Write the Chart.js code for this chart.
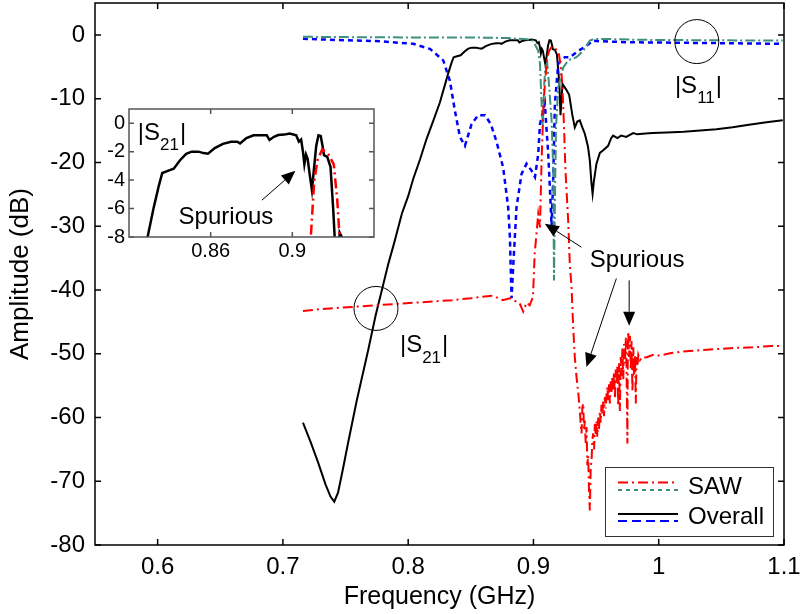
<!DOCTYPE html>
<html>
<head>
<meta charset="utf-8">
<script src="https://cdn.jsdelivr.net/npm/chart.js@4.4.1/dist/chart.umd.min.js"></script>
<style>
  html, body { margin: 0; padding: 0; background: #fff; }
  #wrap { position: relative; width: 800px; height: 614px; }
  #main { position: absolute; left: 0; top: 0; }
  #inset { position: absolute; left: 85px; top: 100px; }
</style>
</head>
<body>
<div id="wrap">
  <canvas id="main" width="800" height="614"></canvas>
  <canvas id="inset" width="300" height="165"></canvas>
</div>
<script>
// ---- measured responses (frequency in GHz, amplitude in dB) ----
const overallS21Freq = [0.716,0.722,0.728,0.734,0.738,0.741,0.744,0.748,0.752,0.759,0.768,0.774,0.779,0.784,0.789,0.795,0.800,0.804,0.8095,0.8147,0.820,0.8253,0.8291,0.8320,0.8346,0.8363,0.8390,0.8419,0.8450,0.8480,0.8507,0.8540,0.8565,0.8587,0.8620,0.8660,0.8700,0.8730,0.8744,0.8775,0.8810,0.8845,0.8875,0.8888,0.8910,0.8931,0.8960,0.8987,0.9019,0.9032,0.9043,0.9052,0.9059,0.9067,0.9075,0.9085,0.9096,0.9107,0.9117,0.9128,0.9139,0.9148,0.9155,0.9171,0.9187,0.9200,0.9207,0.9216,0.9232,0.9259,0.9285,0.9310,0.9330,0.9350,0.9370,0.9390,0.9410,0.9435,0.9450,0.9462,0.9472,0.9482,0.9503,0.9530,0.9557,0.9596,0.9620,0.9636,0.9670,0.9700,0.9740,0.9796,0.9830,0.9870,0.9950,1.0063,1.020,1.033,1.046,1.059,1.072,1.086,1.099];
const overallS21Db   = [-60.8,-63.8,-67.0,-70.5,-72.4,-73.2,-71.8,-68.0,-64.0,-57.3,-49.5,-44.0,-40.0,-36.0,-32.5,-28.0,-25.3,-22.6,-19.5,-16.3,-13.5,-10.6,-8.0,-6.0,-4.4,-3.5,-3.35,-3.2,-2.6,-2.15,-2.0,-2.0,-2.1,-2.15,-1.75,-1.45,-1.3,-1.3,-1.42,-1.05,-0.85,-0.85,-0.85,-1.18,-0.95,-0.83,-0.8,-0.72,-0.85,-1.3,-1.15,-2.0,-2.9,-2.2,-2.5,-3.6,-4.7,-3.06,-1.6,-0.85,-0.9,-1.6,-2.24,-2.36,-3.06,-6.0,-7.9,-12.6,-7.7,-8.5,-9.4,-12.5,-14.5,-13.6,-13.4,-14.5,-15.5,-17.5,-19.7,-23.0,-24.9,-23.0,-20.2,-18.5,-18.1,-17.4,-16.2,-15.8,-16.2,-15.8,-16.0,-15.4,-15.6,-15.5,-15.4,-15.3,-15.2,-15.0,-14.8,-14.5,-14.1,-13.7,-13.4];

const overallS11Freq = [0.716,0.750,0.7775,0.804,0.8174,0.828,0.8333,0.8373,0.8413,0.8453,0.8506,0.8559,0.8613,0.8660,0.8706,0.8758,0.8798,0.8812,0.8825,0.8838,0.8865,0.8905,0.8945,0.8985,0.9012,0.9038,0.9052,0.9078,0.9091,0.9118,0.9131,0.9145,0.9158,0.9171,0.9198,0.9224,0.925,0.929,0.9344,0.9424,0.9477,0.953,0.977,1.001,1.05,1.099];
const overallS11Db   = [-0.6,-0.85,-1.0,-1.4,-2.2,-4.0,-7.2,-11.9,-16.0,-17.4,-14.0,-12.6,-12.6,-14.0,-16.8,-20.8,-27.0,-31.7,-41.3,-36.4,-27.0,-21.8,-20.2,-21.3,-22.3,-18.7,-14.0,-11.9,-10.8,-18.7,-23.9,-30.0,-22.3,-10.8,-4.5,-4.0,-3.5,-3.5,-2.7,-1.7,-0.9,-1.0,-1.16,-1.2,-1.3,-1.4];

const sawS21Freq = [0.716,0.730,0.745,0.760,0.775,0.790,0.805,0.820,0.835,0.850,0.857,0.8676,0.8756,0.881,0.889,0.8918,0.8945,0.897,0.8996,0.901,0.9038,0.9052,0.9065,0.9080,0.9091,0.9107,0.9123,0.9147,0.9179,0.9203,0.9220,0.9231,0.9245,0.9255,0.9277,0.9290,0.9304,0.9317,0.9330,0.9344,0.9357,
  0.9370,0.9377,0.9384,0.9390,0.9397,0.9404,0.9410,0.9417,0.9424,0.9430,0.9437,0.9443,0.9450,0.9457,0.9464,0.9470,0.9477,0.9484,0.9490,0.9497,0.9503,0.9510,0.9517,0.9523,0.9530,0.9537,0.9543,0.9550,0.9557,0.9563,0.9570,0.9577,0.9583,0.9590,0.9597,0.9603,0.9610,0.9617,0.9623,0.9630,0.9636,0.9643,0.9650,0.9657,0.9663,0.9670,0.9676,0.9683,0.9690,0.9697,0.9703,0.9710,0.9717,0.9723,0.9730,0.9737,0.9743,0.9750,0.9753,0.9757,0.9763,0.9770,0.9777,0.9783,0.9790,0.9797,0.9803,0.9810,0.9817,0.9823,0.9830,0.9837,
  0.9850,0.9870,0.9900,0.9950,1.001,1.010,1.017,1.030,1.045,1.060,1.075,1.090,1.099];
const sawS21Db   = [-43.3,-43.0,-42.8,-42.6,-42.4,-42.2,-42.0,-41.8,-41.6,-41.3,-41.1,-40.9,-41.6,-41.3,-42.1,-43.4,-42.0,-42.4,-41.1,-34.3,-28.1,-30.2,-19.7,-11.0,-7.9,-4.1,-2.6,-1.83,-2.24,-2.9,-5.4,-7.9,-15.0,-21.0,-29.1,-35.9,-39.5,-45.8,-50.5,-53.7,-56.0,
  -58.9,-61.0,-62.5,-58.5,-57.8,-62.0,-60.5,-64.0,-61.5,-67.5,-66.0,-71.0,-74.6,-68.0,-66.7,-63.5,-62.5,-65.0,-61.0,-62.8,-60.5,-63.0,-60.0,-61.8,-59.0,-60.8,-58.0,-59.5,-57.5,-59.8,-56.8,-58.6,-56.5,-55.2,-57.5,-54.8,-57.8,-54.2,-56.0,-53.5,-55.8,-52.8,-57.0,-52.5,-54.5,-51.8,-58.2,-51.5,-59.0,-50.5,-53.5,-49.2,-54.0,-48.5,-51.5,-47.5,-52.0,-64.1,-49.0,-46.5,-50.5,-47.2,-52.5,-48.0,-56.0,-49.0,-53.5,-50.2,-57.8,-50.5,-52.0,-50.2,
  -51.0,-50.5,-50.6,-50.2,-50.3,-49.9,-49.7,-49.5,-49.3,-49.1,-49.0,-48.8,-48.8];

const sawS11Freq = [0.716,0.750,0.800,0.850,0.880,0.895,0.8996,0.9038,0.9052,0.9065,0.9075,0.9085,0.9095,0.911,0.9125,0.9145,0.9158,0.9164,0.9172,0.918,0.9198,0.9238,0.9277,0.9344,0.9397,0.945,0.949,0.960,0.980,1.000,1.050,1.099];
const sawS11Db   = [-0.3,-0.35,-0.4,-0.4,-0.5,-0.7,-0.9,-2.5,-4.5,-10.8,-14.5,-8.0,-5.0,-4.5,-8.0,-13.4,-21.3,-38.5,-25.0,-14.5,-8.2,-5.1,-4.0,-3.5,-2.5,-0.9,-0.63,-0.65,-0.75,-0.8,-0.85,-0.9];

// ---- axis ticks ----
const xTickValues = [0.6, 0.7, 0.8, 0.9, 1.0, 1.1];
const yTickValues = [-80, -70, -60, -50, -40, -30, -20, -10, 0];
const insetXTicks = [0.86, 0.9];
const insetYTicks = [-8, -6, -4, -2, 0];

const legendLabels = ['SAW', 'Overall'];

// ---- styling ----
const FONT = 'Liberation Sans, Arial, Helvetica, sans-serif';
const RED = '#ff0000', TEAL = '#3f8f7f', BLACK = '#000000', BLUE = '#0000ff';
const DASH_RED = [10, 4, 2, 4], DASH_TEAL = [10, 3, 2, 3], DASH_BLUE = [5, 4];

const pts = (f, d) => f.map((x, i) => ({ x, y: d[i] }));
const fmt = v => String(+Number(v).toFixed(2));

function drawArrow(ctx, x1, y1, x2, y2) {
  const ang = Math.atan2(y2 - y1, x2 - x1), len = 14, hw = 6;
  const bx = x2 - len * Math.cos(ang), by = y2 - len * Math.sin(ang);
  ctx.save();
  ctx.strokeStyle = '#000'; ctx.fillStyle = '#000'; ctx.lineWidth = 1; ctx.setLineDash([]);
  ctx.beginPath(); ctx.moveTo(x1, y1); ctx.lineTo(bx, by); ctx.stroke();
  ctx.beginPath();
  ctx.moveTo(x2, y2);
  ctx.lineTo(bx + hw * Math.sin(ang), by - hw * Math.cos(ang));
  ctx.lineTo(bx - hw * Math.sin(ang), by + hw * Math.cos(ang));
  ctx.closePath(); ctx.fill();
  ctx.restore();
}

// "|S" + subscript + "|"
function drawSubLabel(ctx, x, y, sub, size) {
  ctx.save();
  ctx.fillStyle = '#000'; ctx.textBaseline = 'alphabetic'; ctx.textAlign = 'left';
  ctx.font = size + 'px ' + FONT;
  ctx.fillText('|S', x, y);
  let w = ctx.measureText('|S').width;
  const subSize = Math.round(size * 0.72);
  ctx.font = subSize + 'px ' + FONT;
  ctx.fillText(sub, x + w, y + size * 0.42);
  w += ctx.measureText(sub).width;
  ctx.font = size + 'px ' + FONT;
  ctx.fillText('|', x + w + 1, y);
  ctx.restore();
}

// Box frame with inward tick marks on all four sides
const framePlugin = {
  id: 'frame',
  afterDatasetsDraw(chart, args, opts) {
    const { ctx, chartArea: a, scales: { x, y } } = chart;
    ctx.save();
    ctx.setLineDash([]);
    ctx.strokeStyle = opts.color; ctx.lineWidth = opts.width;
    ctx.beginPath();
    x.ticks.forEach(t => {
      const px = x.getPixelForValue(t.value);
      ctx.moveTo(px, a.bottom); ctx.lineTo(px, a.bottom - opts.tick);
      ctx.moveTo(px, a.top); ctx.lineTo(px, a.top + opts.tick);
    });
    y.ticks.forEach(t => {
      const py = y.getPixelForValue(t.value);
      ctx.moveTo(a.left, py); ctx.lineTo(a.left + opts.tick, py);
      ctx.moveTo(a.right, py); ctx.lineTo(a.right - opts.tick, py);
    });
    ctx.stroke();
    ctx.strokeRect(a.left, a.top, a.right - a.left, a.bottom - a.top);
    ctx.restore();
  }
};

const whiteArea = {
  id: 'whiteArea',
  beforeDraw(chart) {
    const { ctx, chartArea: a } = chart;
    ctx.save(); ctx.fillStyle = '#fff';
    ctx.fillRect(a.left, a.top, a.right - a.left, a.bottom - a.top);
    ctx.restore();
  }
};

// Call-outs on the main plot (anchored in data units)
const mainNotes = {
  circles: [{ f: 0.7743, db: -42.9 }, { f: 1.0304, db: -1.05 }],
  labels: [{ f: 0.7934, db: -49.8, sub: '21' }, { f: 1.0129, db: -9.05, sub: '11' }],
  text: { f: 0.945, db: -36.4, s: 'Spurious' },
  arrows: [[0.9383, -33.3, 0.9091, -29.6], [0.9662, -38.2, 0.9423, -52.1], [0.9764, -38.5, 0.9764, -45.6]]
};

const mainNotesPlugin = {
  id: 'mainNotes',
  afterDatasetsDraw(chart) {
    const { ctx, scales: { x, y }, chartArea: a } = chart;
    const X = v => x.getPixelForValue(v), Y = v => y.getPixelForValue(v);
    ctx.save();
    ctx.strokeStyle = '#000'; ctx.lineWidth = 1; ctx.setLineDash([]);
    mainNotes.circles.forEach(c => {
      ctx.beginPath(); ctx.arc(X(c.f), Y(c.db), 22, 0, Math.PI * 2); ctx.stroke();
    });
    mainNotes.labels.forEach(l => drawSubLabel(ctx, X(l.f), Y(l.db), l.sub, 24));
    ctx.fillStyle = '#000'; ctx.font = '24px ' + FONT; ctx.textAlign = 'left'; ctx.textBaseline = 'alphabetic';
    ctx.fillText(mainNotes.text.s, X(mainNotes.text.f), Y(mainNotes.text.db));
    mainNotes.arrows.forEach(r => drawArrow(ctx, X(r[0]), Y(r[1]), X(r[2]), Y(r[3])));

    // legend box, bottom-right corner
    const bw = 168, bh = 69;
    const bx = a.right - 11 - bw, by = a.bottom - 9 - bh;
    ctx.fillStyle = '#fff'; ctx.fillRect(bx, by, bw, bh);
    ctx.strokeStyle = '#333'; ctx.lineWidth = 1; ctx.strokeRect(bx + 0.5, by + 0.5, bw, bh);
    const sample = (yy, color, dash, w) => {
      ctx.beginPath(); ctx.strokeStyle = color; ctx.lineWidth = w; ctx.setLineDash(dash);
      ctx.moveTo(bx + 13, yy); ctx.lineTo(bx + 73, yy); ctx.stroke();
    };
    sample(by + 15.5, RED, DASH_RED, 2);
    sample(by + 23, TEAL, [4, 4], 2);
    sample(by + 47, BLACK, [], 2);
    sample(by + 54, BLUE, [9, 5], 2);
    ctx.setLineDash([]);
    ctx.fillStyle = '#000'; ctx.font = '24px ' + FONT; ctx.textBaseline = 'middle';
    ctx.fillText(legendLabels[0], bx + 83, by + 20);
    ctx.fillText(legendLabels[1], bx + 83, by + 50);
    ctx.restore();
  }
};

const tickFont = { family: FONT, size: 24 };
const xTitleFont = { family: FONT, size: 25 };
const yTitleFont = { family: FONT, size: 26 };

// keep the plot box fixed: no extra room reserved for overhanging tick labels
const fixX = h => s => { s.height = h; s.paddingLeft = 0; s.paddingRight = 0; };
const fixY = w => s => { s.width = w; s.paddingTop = 0; s.paddingBottom = 0; };

new Chart(document.getElementById('main'), {
  type: 'line',
  data: {
    datasets: [
      { data: pts(sawS21Freq, sawS21Db), borderColor: RED, borderWidth: 2, borderDash: DASH_RED },
      { data: pts(sawS11Freq, sawS11Db), borderColor: TEAL, borderWidth: 2, borderDash: DASH_TEAL },
      { data: pts(overallS11Freq, overallS11Db), borderColor: BLUE, borderWidth: 2.5, borderDash: DASH_BLUE },
      { data: pts(overallS21Freq, overallS21Db), borderColor: BLACK, borderWidth: 2 }
    ]
  },
  options: {
    responsive: false, animation: false, devicePixelRatio: 1,
    parsing: false,
    layout: { padding: { top: 3, right: 16, left: 0, bottom: 0 } },
    elements: { point: { radius: 0 }, line: { tension: 0, fill: false } },
    plugins: {
      legend: { display: false }, tooltip: { enabled: false },
      frame: { color: '#000', width: 1.5, tick: 6 }
    },
    scales: {
      x: {
        type: 'linear', min: 0.55, max: 1.1,
        afterBuildTicks: s => { s.ticks = xTickValues.map(v => ({ value: v })); },
        afterFit: fixX(69),
        grid: { display: false, drawTicks: false }, border: { display: false },
        ticks: { color: '#000', font: tickFont, padding: 8, maxRotation: 0, callback: v => fmt(v) },
        title: { display: true, text: 'Frequency (GHz)', color: '#000', font: xTitleFont, padding: { top: 0, bottom: 2 } }
      },
      y: {
        type: 'linear', min: -80, max: 5,
        afterBuildTicks: s => { s.ticks = yTickValues.map(v => ({ value: v })); },
        afterFit: fixY(95),
        grid: { display: false, drawTicks: false }, border: { display: false },
        ticks: { color: '#000', font: tickFont, padding: 10, callback: v => fmt(v) },
        title: { display: true, text: 'Amplitude (dB)', color: '#000', font: yTitleFont, padding: { top: 5, bottom: 0 } }
      }
    }
  },
  plugins: [framePlugin, mainNotesPlugin]
});

// ---- zoomed pass-band inset ----
const insetNotes = {
  label: { f: 0.8243, db: -1.18, sub: '21' },
  text: { f: 0.8443, db: -7.06, s: 'Spurious' },
  arrow: [0.8851, -5.41, 0.9015, -3.35]
};

const insetNotesPlugin = {
  id: 'insetNotes',
  afterDatasetsDraw(chart) {
    const { ctx, scales: { x, y } } = chart;
    const X = v => x.getPixelForValue(v), Y = v => y.getPixelForValue(v);
    ctx.save();
    drawSubLabel(ctx, X(insetNotes.label.f), Y(insetNotes.label.db), insetNotes.label.sub, 24);
    ctx.fillStyle = '#000'; ctx.font = '24px ' + FONT; ctx.textAlign = 'left'; ctx.textBaseline = 'alphabetic';
    ctx.fillText(insetNotes.text.s, X(insetNotes.text.f), Y(insetNotes.text.db));
    const r = insetNotes.arrow;
    drawArrow(ctx, X(r[0]), Y(r[1]), X(r[2]), Y(r[3]));
    ctx.restore();
  }
};

const insetFont = { family: FONT, size: 20 };

new Chart(document.getElementById('inset'), {
  type: 'line',
  data: {
    datasets: [
      { data: pts(sawS21Freq, sawS21Db), borderColor: RED, borderWidth: 2.5, borderDash: DASH_RED },
      { data: pts(overallS21Freq, overallS21Db), borderColor: BLACK, borderWidth: 2.5 }
    ]
  },
  options: {
    responsive: false, animation: false, devicePixelRatio: 1,
    parsing: false,
    layout: { padding: { top: 9, right: 11, left: 0, bottom: 0 } },
    elements: { point: { radius: 0 }, line: { tension: 0, fill: false } },
    plugins: {
      legend: { display: false }, tooltip: { enabled: false },
      frame: { color: '#555', width: 1.5, tick: 5 }
    },
    scales: {
      x: {
        type: 'linear', min: 0.82, max: 0.94,
        afterBuildTicks: s => { s.ticks = insetXTicks.map(v => ({ value: v })); },
        afterFit: fixX(28),
        grid: { display: false, drawTicks: false }, border: { display: false },
        ticks: { color: '#000', font: insetFont, padding: 2, maxRotation: 0, callback: v => fmt(v) }
      },
      y: {
        type: 'linear', min: -8, max: 1,
        afterBuildTicks: s => { s.ticks = insetYTicks.map(v => ({ value: v })); },
        afterFit: fixY(44),
        grid: { display: false, drawTicks: false }, border: { display: false },
        ticks: { color: '#000', font: insetFont, padding: 4, callback: v => fmt(v) }
      }
    }
  },
  plugins: [whiteArea, framePlugin, insetNotesPlugin]
});
</script>
</body>
</html>
